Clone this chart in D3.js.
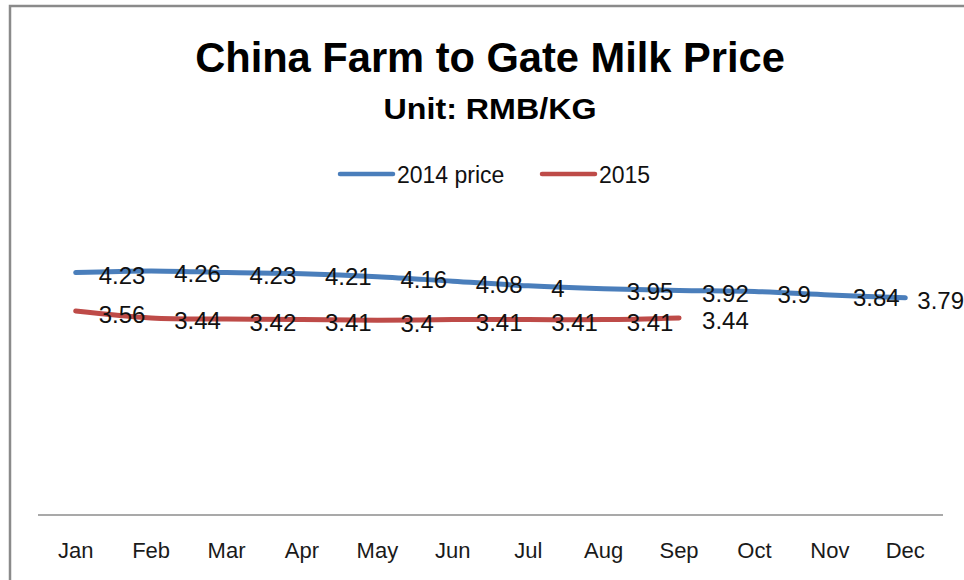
<!DOCTYPE html>
<html>
<head>
<meta charset="utf-8">
<script src="https://cdn.jsdelivr.net/npm/d3@7"></script>
<style>
  html, body { margin: 0; padding: 0; background: #fff; }
  svg { display: block; }
  text { font-family: "Liberation Sans", Arial, sans-serif; fill: #111; }
  .title { font-weight: bold; fill: #000; }
  .axis path { stroke: #8c8c8c; stroke-width: 1.5; }
  .axis text { font-size: 22px; fill: #1a1a1a; }
</style>
</head>
<body>
<div id="chart"></div>
<script>
// Datos
const months = ["Jan", "Feb", "Mar", "Apr", "May", "Jun", "Jul", "Aug", "Sep", "Oct", "Nov", "Dec"];
const price2014 = [4.23, 4.26, 4.23, 4.21, 4.16, 4.08, 4, 3.95, 3.92, 3.9, 3.84, 3.79];
const price2015 = [3.56, 3.44, 3.42, 3.41, 3.4, 3.41, 3.41, 3.41, 3.44];
const seriesNames = ["2014 price", "2015"];
const seriesColors = ["#4a7ebb", "#be4b48"];
const yDomain = [0, 5];

const titleText = "China Farm to Gate Milk Price";
const subtitleText = "Unit: RMB/KG";

const W = 964, H = 580;
const cx = 490;

const svg = d3.select("#chart").append("svg")
    .attr("width", W)
    .attr("height", H);

// Marco del gráfico
svg.append("rect")
    .attr("x", 10).attr("y", 6)
    .attr("width", W + 20).attr("height", H + 20)
    .attr("fill", "none")
    .attr("stroke", "#8a8a8a")
    .attr("stroke-width", 2.5);

// Título condensado: alto fijo, ancho ajustado con escala horizontal
function condensedText(str, y, size, target) {
    const t = svg.append("text")
        .attr("class", "title")
        .attr("text-anchor", "middle")
        .style("font-size", size + "px")
        .text(str);
    const sx = target / t.node().getComputedTextLength();
    t.attr("transform", `translate(${cx},${y}) scale(${sx},1)`);
    return t;
}

condensedText(titleText, 72, 42, 590);
condensedText(subtitleText, 119, 29, 213);

// Escalas
const x = d3.scaleBand().domain(months).range([38, 943]);
const y = d3.scaleLinear().domain(yDomain).range([515, 228.5]);
const px = m => x(m) + x.bandwidth() / 2;

// Eje X
const xAxis = d3.axisBottom(x).tickSize(0).tickPadding(27).tickSizeOuter(0);
svg.append("g")
    .attr("class", "axis")
    .attr("transform", `translate(0,${y(0)})`)
    .call(xAxis)
    .call(g => g.select(".domain").attr("d", `M${x.range()[0]},0H${x.range()[1]}`));

// Líneas suavizadas
const series = [price2014, price2015];
const line = d3.line()
    .x((d, i) => px(months[i]))
    .y(d => y(d))
    .curve(d3.curveCatmullRom);

series.forEach((vals, k) => {
    svg.append("path")
        .datum(vals)
        .attr("d", line)
        .attr("fill", "none")
        .attr("stroke", seriesColors[k])
        .attr("stroke-width", 5)
        .attr("stroke-linecap", "round")
        .attr("stroke-linejoin", "round");
});

// Etiquetas de valores
series.forEach(vals => {
    svg.append("g").selectAll("text")
        .data(vals)
        .join("text")
        .style("font-size", "24px")
        .attr("y", d => y(d) + 11.5)
        .text(d => d)
        .each(function (d, i) {
            const w = this.getComputedTextLength();
            d3.select(this).attr("x", Math.min(px(months[i]) + 23, W - w));
        });
});

// Leyenda
const legendX = [338, 540];
seriesNames.forEach((name, k) => {
    const g = svg.append("g").attr("transform", `translate(${legendX[k]},174)`);
    g.append("line")
        .attr("x1", 2).attr("x2", 55)
        .attr("stroke", seriesColors[k])
        .attr("stroke-width", 4.5)
        .attr("stroke-linecap", "round");
    g.append("text")
        .attr("x", 59).attr("y", 8.5)
        .style("font-size", "23px")
        .text(name);
});
</script>
</body>
</html>
